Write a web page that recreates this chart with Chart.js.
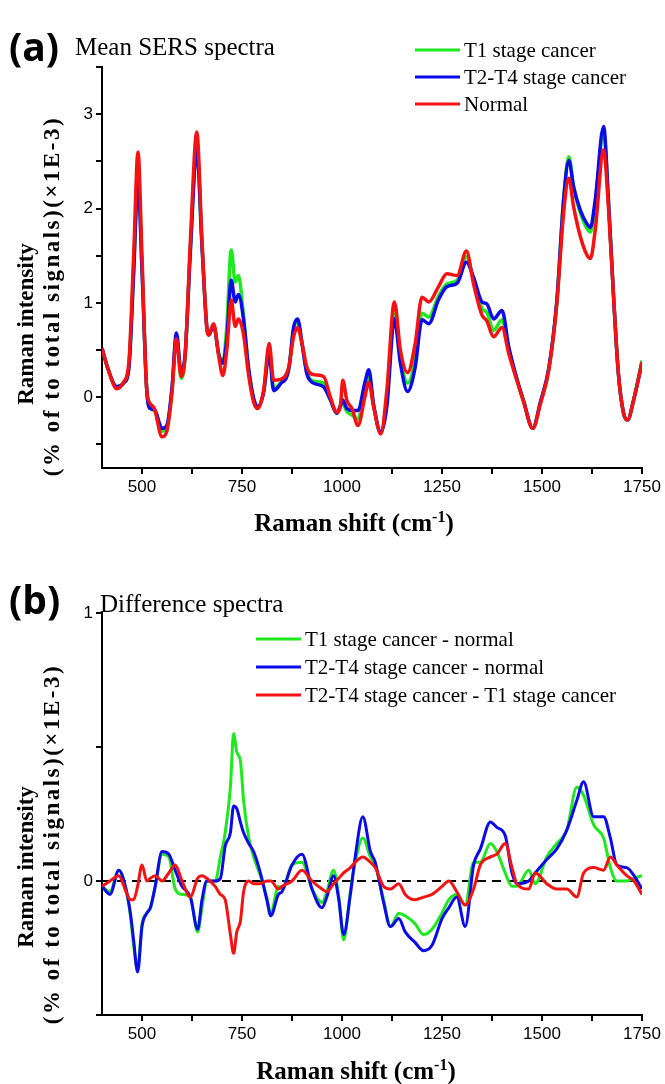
<!DOCTYPE html>
<html>
<head>
<meta charset="utf-8">
<script src="https://cdn.jsdelivr.net/npm/chart.js@4"></script>
<style>
body { margin: 0; background: #fff; }
#page { position: relative; width: 665px; height: 1084px; overflow: hidden; font-family: "Liberation Serif", serif; color: #000; }
canvas { position: absolute; left: 0; }
.txt { position: absolute; white-space: nowrap; line-height: 1; transform: translateY(-50%); }
.tag { font-family: "Open Sans", sans-serif; font-weight: bold; font-size: 39px; }
.head { font-size: 25px; }
.leg { font-size: 21px; }
.leg i { display: inline-block; width: 45px; height: 3px; vertical-align: middle; margin-right: 4px; position: relative; top: -2px; }
.xt { font-weight: bold; font-size: 25px; transform: translate(-50%, -50%); }
.xt sup { font-size: 16px; }
.yt { font-weight: bold; font-size: 23px; transform: translate(-50%, -50%) rotate(-90deg); }
.yt.wide { letter-spacing: 2.5px; }
</style>
</head>
<body>
<div id="page">
  <canvas id="chartA" width="665" height="540" style="top:0"></canvas>
  <canvas id="chartB" width="665" height="544" style="top:540px"></canvas>

  <div class="txt tag" style="left:9px;top:45px">(a)</div>
  <div class="txt head" style="left:75px;top:46px">Mean SERS spectra</div>
  <div id="legendA"></div>
  <div class="txt xt" style="left:354px;top:522px">Raman shift (cm<sup>-1</sup>)</div>
  <div class="txt yt" style="left:25px;top:324px">Raman intensity</div>
  <div class="txt yt wide" style="left:51px;top:296px">(% of to total signals)(×1E-3)</div>

  <div class="txt tag" style="left:9px;top:598px">(b)</div>
  <div class="txt head" style="left:100px;top:603px">Difference spectra</div>
  <div id="legendB"></div>
  <div class="txt xt" style="left:356px;top:1070px">Raman shift (cm<sup>-1</sup>)</div>
  <div class="txt yt" style="left:25px;top:867px">Raman intensity</div>
  <div class="txt yt wide" style="left:51px;top:844px">(% of to total signals)(×1E-3)</div>
</div>
<script>
// (a) 平均スペクトル
const shiftA = [400,415,437,454,467,479,490,500,512,521,531,550,562,575,586,598,608,621,637,650,662,667,679,692,702,712,723,733,741,754,766,779,789,804,818,829,846,867,879,889,900,912,929,954,971,987,996,1002,1012,1025,1040,1057,1067,1079,1097,1112,1131,1146,1164,1183,1200,1217,1241,1262,1288,1311,1329,1350,1362,1379,1400,1417,1437,1454,1477,1496,1517,1537,1554,1567,1579,1596,1612,1621,1633,1654,1666,1679,1691,1704,1714,1729,1750];
const t1Mean = [0.52,0.30,0.11,0.15,0.32,1.35,2.35,1.38,0.07,-0.12,-0.14,-0.36,-0.32,0.08,0.64,0.20,0.44,1.58,2.65,1.62,0.74,0.66,0.77,0.46,0.37,0.75,1.56,1.22,1.29,0.85,0.32,-0.02,-0.11,0.06,0.50,0.10,0.15,0.31,0.72,0.80,0.57,0.27,0.17,0.15,-0.02,-0.17,-0.10,-0.07,-0.15,-0.19,-0.23,0.08,0.21,-0.09,-0.38,-0.05,0.88,0.42,0.15,0.40,0.89,0.85,1.07,1.20,1.24,1.49,1.24,0.94,0.90,0.71,0.82,0.50,0.19,-0.04,-0.33,-0.06,0.30,1.00,2.10,2.55,2.23,1.95,1.79,1.75,2.05,2.80,2.08,1.06,0.25,-0.17,-0.24,-0.03,0.39];
const t24Mean = [0.52,0.30,0.11,0.15,0.30,1.30,2.30,1.35,0.07,-0.12,-0.13,-0.33,-0.30,0.10,0.68,0.26,0.47,1.55,2.62,1.60,0.74,0.66,0.76,0.45,0.36,0.62,1.24,1.01,1.09,0.82,0.32,-0.01,-0.10,0.05,0.46,0.07,0.14,0.30,0.74,0.83,0.57,0.25,0.15,0.11,-0.03,-0.17,-0.09,-0.03,-0.12,-0.14,-0.14,0.15,0.29,-0.08,-0.37,-0.10,0.83,0.36,0.06,0.32,0.82,0.78,1.03,1.17,1.21,1.43,1.27,1.01,0.99,0.83,0.92,0.53,0.20,-0.04,-0.33,-0.05,0.31,1.02,2.09,2.51,2.23,1.98,1.84,1.80,2.09,2.87,2.10,1.06,0.25,-0.17,-0.24,-0.03,0.37];
const normalMean = [0.52,0.30,0.09,0.16,0.36,1.49,2.60,1.49,0.07,-0.07,-0.12,-0.42,-0.36,0.05,0.62,0.22,0.45,1.66,2.81,1.66,0.74,0.66,0.78,0.43,0.23,0.50,1.03,0.75,0.83,0.66,0.25,-0.05,-0.12,0.07,0.57,0.18,0.19,0.32,0.64,0.74,0.57,0.32,0.24,0.22,0.00,-0.16,-0.09,0.18,-0.03,-0.12,-0.30,0.00,0.16,-0.10,-0.39,0.07,1.01,0.50,0.26,0.57,1.06,1.01,1.17,1.31,1.29,1.55,1.20,0.87,0.81,0.64,0.74,0.46,0.18,-0.05,-0.33,-0.07,0.29,0.99,1.95,2.32,2.02,1.70,1.51,1.47,1.77,2.62,2.02,1.06,0.25,-0.17,-0.24,-0.03,0.37];

// (b) 差スペクトル
const shiftB = [400,420,442,460,471,479,489,500,512,521,533,550,567,583,600,621,639,650,662,683,696,708,721,729,737,746,754,767,779,796,812,822,841,850,875,900,925,950,962,979,992,1004,1021,1033,1052,1071,1083,1104,1121,1142,1158,1183,1204,1225,1250,1267,1287,1308,1329,1346,1371,1387,1408,1425,1437,1467,1483,1512,1537,1562,1587,1604,1629,1654,1671,1687,1712,1730,1750];
const t1MinusNormal = [-0.02,-0.04,0.04,-0.03,-0.13,-0.24,-0.33,-0.16,-0.12,-0.10,-0.02,0.10,0.09,-0.03,-0.05,-0.06,-0.19,-0.10,0.00,0.00,0.09,0.18,0.35,0.55,0.48,0.45,0.30,0.16,0.09,0.02,-0.06,-0.12,-0.02,-0.03,0.06,0.07,-0.03,-0.08,-0.04,0.04,-0.06,-0.22,-0.04,0.07,0.16,0.09,0.06,-0.07,-0.17,-0.12,-0.13,-0.16,-0.20,-0.18,-0.12,-0.07,-0.05,-0.09,0.07,0.07,0.14,0.11,0.03,-0.02,-0.02,0.04,-0.01,0.09,0.14,0.19,0.35,0.32,0.21,0.16,0.05,0.00,0.00,0.01,0.02];
const t24MinusNormal = [-0.02,-0.05,0.04,-0.03,-0.12,-0.22,-0.34,-0.17,-0.12,-0.10,-0.02,0.11,0.10,0.04,-0.02,-0.06,-0.18,-0.07,0.00,0.00,0.01,0.13,0.18,0.28,0.27,0.22,0.18,0.14,0.11,0.03,-0.07,-0.13,-0.05,-0.04,0.06,0.10,-0.03,-0.10,-0.06,0.02,-0.07,-0.20,-0.05,0.09,0.24,0.11,0.07,-0.08,-0.17,-0.14,-0.19,-0.23,-0.26,-0.24,-0.14,-0.10,-0.06,-0.17,0.06,0.12,0.22,0.20,0.17,0.03,-0.01,0.00,0.03,0.08,0.12,0.19,0.30,0.37,0.24,0.24,0.16,0.06,0.05,0.02,-0.03];
const t24MinusT1 = [-0.02,0.00,0.02,-0.04,-0.07,-0.07,-0.02,0.06,0.00,0.01,0.02,0.00,0.03,0.06,0.00,-0.06,0.01,0.02,0.01,-0.02,-0.05,-0.07,-0.20,-0.27,-0.19,-0.15,-0.04,0.00,-0.01,-0.01,0.00,0.00,-0.03,-0.02,0.00,0.04,0.00,-0.03,-0.04,-0.01,0.01,0.03,0.05,0.07,0.09,0.07,0.05,-0.02,-0.03,-0.01,-0.05,-0.07,-0.06,-0.05,-0.02,0.00,-0.04,-0.09,-0.03,0.06,0.09,0.10,0.14,0.05,-0.01,-0.03,0.03,-0.01,-0.03,-0.03,-0.06,0.03,0.05,0.04,0.09,0.06,0.02,0.00,-0.05];
const zeroShift = [400, 1750];
const zeroLevel = [0, 0];

// 目盛り
const xTicks = [500,625,750,875,1000,1125,1250,1375,1500,1625,1750];
const yTicksA = [-0.5,0,0.5,1,1.5,2,2.5,3,3.5];
const yTicksB = [-0.5,0,0.5,1];

const namesA = ['T1 stage cancer', 'T2-T4 stage cancer', 'Normal'];
const namesB = ['T1 stage cancer - normal', 'T2-T4 stage cancer - normal', 'T2-T4 stage cancer - T1 stage cancer'];
const colors = ['#1ee81e', '#0b0bea', '#f41212'];

function toPoints(xs, ys) {
    return xs.map((x, i) => ({ x: x, y: ys[i] }));
}

function lineSet(label, xs, ys, color, order, width) {
    return {
        label: label,
        data: toPoints(xs, ys),
        borderColor: color,
        borderWidth: width,
        pointRadius: 0,
        fill: false,
        cubicInterpolationMode: 'monotone',
        order: order
    };
}

function makeChart(canvasId, datasets, yMin, yMax, yTicks, padTop, padBottom) {
    const ctx = document.getElementById(canvasId);
    return new Chart(ctx, {
        type: 'line',
        data: { datasets: datasets },
        options: {
            responsive: false,
            animation: false,
            events: [],
            layout: { padding: { left: 0, right: 23, top: padTop, bottom: padBottom } },
            plugins: { legend: { display: false }, tooltip: { enabled: false } },
            scales: {
                x: {
                    type: 'linear', min: 400, max: 1750,
                    afterBuildTicks: s => { s.ticks = xTicks.map(v => ({ value: v })); },
                    afterFit: s => { s.height = 34; },
                    ticks: {
                        autoSkip: false, maxRotation: 0, padding: 3, color: '#000',
                        font: { family: 'Liberation Sans', size: 17 },
                        callback: v => (v % 250 === 0 ? String(v) : '')
                    },
                    grid: { drawOnChartArea: false, tickLength: 6, color: '#000', lineWidth: 2 },
                    border: { color: '#000', width: 2 }
                },
                y: {
                    type: 'linear', min: yMin, max: yMax,
                    afterBuildTicks: s => { s.ticks = yTicks.map(v => ({ value: v })); },
                    afterFit: s => { s.width = 102; },
                    ticks: {
                        autoSkip: false, padding: 3, color: '#000',
                        font: { family: 'Liberation Sans', size: 17 },
                        callback: v => (Number.isInteger(v) ? String(v) : '')
                    },
                    grid: { drawOnChartArea: false, tickLength: 6, color: '#000', lineWidth: 2 },
                    border: { color: '#000', width: 2 }
                }
            }
        }
    });
}

function buildLegend(elementId, names, lineLeft, tops) {
    const element = document.getElementById(elementId);
    names.forEach((name, i) => {
        const row = document.createElement('div');
        row.className = 'txt leg';
        row.style.left = lineLeft + 'px';
        row.style.top = tops[i] + 'px';
        row.innerHTML = '<i style="background:' + colors[i] + '"></i>' + name;
        element.appendChild(row);
    });
}

makeChart('chartA', [
    lineSet(namesA[2], shiftA, normalMean, colors[2], 0, 3.5),
    lineSet(namesA[1], shiftA, t24Mean, colors[1], 1, 3.5),
    lineSet(namesA[0], shiftA, t1Mean, colors[0], 2, 3.5)
], -0.75, 3.5, yTicksA, 67, 540 - 468 - 34);

const zeroSet = lineSet('zero', zeroShift, zeroLevel, '#000', 5, 2);
zeroSet.borderDash = [9, 6];
makeChart('chartB', [
    lineSet(namesB[2], shiftB, t24MinusT1, colors[2], 0, 3),
    lineSet(namesB[1], shiftB, t24MinusNormal, colors[1], 1, 3),
    lineSet(namesB[0], shiftB, t1MinusNormal, colors[0], 2, 3),
    zeroSet
], -0.5, 1, yTicksB, 613 - 540, 544 - (1015 - 540) - 34);

buildLegend('legendA', namesA, 415, [50, 77, 104]);
buildLegend('legendB', namesB, 256, [639, 667, 695]);
</script>
</body>
</html>
